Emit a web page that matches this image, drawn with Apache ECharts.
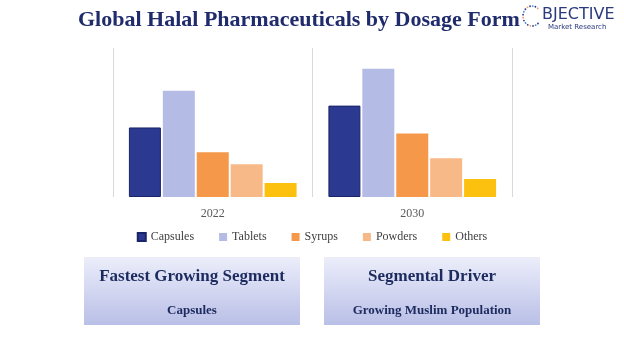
<!DOCTYPE html>
<html>
<head>
<meta charset="utf-8">
<script src="https://cdn.jsdelivr.net/npm/echarts@6/dist/echarts.min.js"></script>
<style>
    html, body {margin: 0; padding: 0; background: #fff;}
    #main {width: 624px; height: 351px;}
</style>
</head>
<body>
<div id="main"></div>
<script>
// 数据
var years = ['2022', '2030'];
var formNames = ['Capsules', 'Tablets', 'Syrups', 'Powders', 'Others'];
var capsules = [70, 92];
var tablets = [107, 129];
var syrups = [45, 64];
var powders = [33, 39];
var others = [14, 18];
var boxTitles = ['Fastest Growing Segment', 'Segmental Driver'];
var boxTexts = ['Capsules', 'Growing Muslim Population'];

var colors = ['#2b3990', '#b4bce6', '#f5984a', '#f8b988', '#fcc00f'];
var serif = '"Liberation Serif", "DejaVu Serif", serif';

var seriesData = [capsules, tablets, syrups, powders, others];
var series = [];
for (var i = 0; i < formNames.length; i++) {
    series.push({
        name: formNames[i],
        type: 'bar',
        barWidth: 32,
        barGap: '6%',
        itemStyle: i == 0 ? {borderColor: '#1a2468', borderWidth: 1} : {},
        data: seriesData[i]
    });
}

/**
 * 下方两个说明框
 */
function makeBox(x, title, text) {
    return {
        type: 'group',
        left: x,
        top: 257,
        children: [
            {
                type: 'rect',
                shape: {x: 0, y: 0, width: 216, height: 68},
                style: {
                    fill: new echarts.graphic.LinearGradient(0, 0, 0, 1, [
                        {offset: 0, color: '#eceefa'},
                        {offset: 1, color: '#b9bfe7'}
                    ])
                }
            },
            {
                type: 'text',
                x: 108, y: 20,
                style: {
                    text: title, fill: '#1c2a5e', align: 'center', verticalAlign: 'middle',
                    font: 'bold 17px ' + serif
                }
            },
            {
                type: 'text',
                x: 108, y: 54,
                style: {
                    text: text, fill: '#1c2a5e', align: 'center', verticalAlign: 'middle',
                    font: 'bold 13px ' + serif
                }
            }
        ]
    };
}

// logo 的圆点
var dots = [];
var dotColors = ['#f5984a', '#2b3990', '#4a8fd0', '#2b3990'];
for (var a = 0; a < 16; a++) {
    var ang = Math.PI * 0.28 + a * (Math.PI * 1.45 / 15);
    dots.push({
        type: 'circle',
        shape: {cx: 532 + 9 * Math.cos(ang), cy: 16 - 10 * Math.sin(ang), r: 0.9},
        style: {fill: dotColors[a % 4]}
    });
}

var option = {
    color: colors,
    animation: false,
    grid: {left: 113, right: 112, top: 48, bottom: 154},
    xAxis: {
        type: 'category',
        data: years,
        axisLine: {show: false},
        axisTick: {show: false},
        splitLine: {show: true, interval: 0, lineStyle: {color: '#d9d9d9'}},
        axisLabel: {color: '#595959', fontFamily: serif, fontSize: 12, margin: 11}
    },
    yAxis: {
        type: 'value',
        min: 0,
        max: 150,
        show: false,
        splitLine: {show: false}
    },
    legend: {
        data: formNames,
        top: 226,
        left: 'center',
        itemWidth: 8,
        itemHeight: 8,
        itemGap: 25,
        icon: 'rect',
        textStyle: {color: '#404040', fontFamily: serif, fontSize: 12}
    },
    graphic: [
        {
            type: 'text',
            left: 78,
            top: 9,
            style: {
                text: 'Global Halal Pharmaceuticals by Dosage Form',
                fill: '#1f2b6b',
                font: 'bold 22px ' + serif
            }
        },
        {
            type: 'text',
            left: 542,
            top: 7,
            style: {text: 'BJECTIVE', fill: '#2b3a7c', font: '16px "DejaVu Sans", sans-serif'}
        },
        {
            type: 'text',
            left: 548,
            top: 24,
            style: {text: 'Market Research', fill: '#2b3a7c', font: '7px "DejaVu Sans", sans-serif'}
        },
        makeBox(84, boxTitles[0], boxTexts[0]),
        makeBox(324, boxTitles[1], boxTexts[1])
    ].concat(dots),
    series: series
};

var myChart = echarts.init(document.getElementById('main'));
myChart.setOption(option);
</script>
</body>
</html>
